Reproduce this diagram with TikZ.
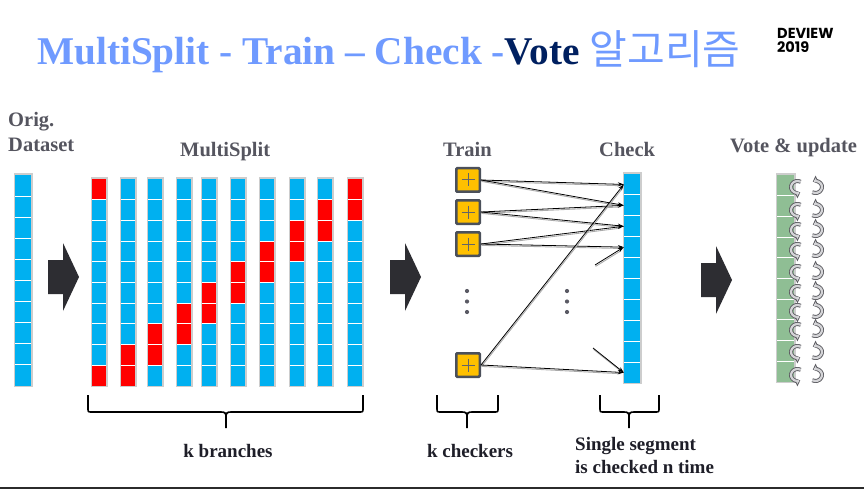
\documentclass[tikz,border=0pt]{standalone}
\usepackage{fontspec}
\setmainfont{Liberation Serif}
\newfontfamily\cjk{Noto Sans CJK KR}
\newfontfamily\logofont{Poppins}
\usetikzlibrary{arrows.meta}

\definecolor{titleblue}{RGB}{111,154,255}
\definecolor{navy}{RGB}{0,32,96}
\definecolor{labelgray}{RGB}{85,85,95}
\definecolor{captiondark}{RGB}{30,30,40}
\definecolor{cellblue}{RGB}{0,176,240}
\definecolor{cellred}{RGB}{255,0,0}
\definecolor{cellgreen}{RGB}{143,190,148}
\definecolor{framegray}{RGB}{205,205,205}
\definecolor{arrowdark}{RGB}{45,45,50}
\definecolor{gold}{RGB}{255,192,0}
\definecolor{boxrim}{RGB}{75,80,90}
\definecolor{plusgray}{RGB}{100,100,105}
\definecolor{dotgray}{RGB}{90,90,100}
\definecolor{curlout}{RGB}{95,95,100}
\definecolor{curlin}{RGB}{212,212,215}
\definecolor{shadowgray}{RGB}{170,170,170}
\definecolor{barcolor}{RGB}{43,43,43}

% a column of ten segments: inner left, inner right, top, bottom, colour
\newcommand\segcolumn[5]{%
  \fill[framegray] (#1-1.5,#3-2) rectangle (#2+1.5,#4+1);
  \fill[white] (#1,#3) rectangle (#2,#4);
  \pgfmathsetmacro\segh{(#4-#3)/10}
  \foreach \i in {1,...,10}{
    \fill[#5] (#1,{#3+(\i-1)*\segh+0.5}) rectangle (#2,{#3+\i*\segh-0.5});
  }%
}
% red (held-out) segments of a column: inner left, inner right, top, bottom, first row
\newcommand\heldout[5]{%
  \pgfmathsetmacro\segh{(#4-#3)/10}
  \foreach \i in {#5,\the\numexpr#5+1\relax}{
    \fill[cellred] (#1,{#3+(\i-1)*\segh+0.5}) rectangle (#2,{#3+\i*\segh-0.5});
  }%
}
% block arrow: left x, tip x, centre y
\newcommand\blockarrow[3]{%
  \fill[arrowdark] (#1,#3-17) -- (#1+15,#3-17) -- (#1+15,#3-34) -- (#2,#3)
    -- (#1+15,#3+34) -- (#1+15,#3+17) -- (#1,#3+17) -- cycle;
}
% curly brace opening downwards: left x, right x, tip x
\newcommand\downbrace[3]{%
  \draw[bracestyle] (#1,395) -- (#1,408) .. controls (#1,412) .. (#1+4,412)
    -- (#3-5,412) .. controls (#3-1,412) and (#3,413) .. (#3,417) -- (#3,428);
  \draw[bracestyle] (#2,395) -- (#2,408) .. controls (#2,412) .. (#2-4,412)
    -- (#3+5,412) .. controls (#3+1,412) and (#3,413) .. (#3,417);
}
% connector with a faint drop shadow
\newcommand\link[2]{%
  \draw[connshadow] (#1) -- (#2);
  \draw[conn] (#1) -- (#2);
}

\tikzset{
  lbl/.style={inner sep=0, text=labelgray, font=\fontsize{20.5}{22}\selectfont\bfseries},
  caption/.style={inner sep=0, text=captiondark, font=\fontsize{19}{21}\selectfont\bfseries},
  checkcell/.style={inner sep=0, minimum width=16pt, minimum height=19.9pt, fill=cellblue},
  trainbox/.style={draw=boxrim, line width=2.5pt, fill=gold, minimum size=23.5pt,
    inner sep=0, rounded corners=1pt},
  plusline/.style={draw=plusgray, line width=1pt},
  conn/.style={draw=black, line width=0.8pt, -{Stealth[length=6pt,width=4pt]}},
  connshadow/.style={draw=shadowgray, line width=0.9pt, transform canvas={xshift=0.6pt,yshift=-1.4pt},
    shorten >=4pt},
  bracestyle/.style={draw=black, line width=1.6pt},
  curlL/.pic={
    \draw[curlout, line width=4pt,
      -{Triangle[length=5pt,width=8.5pt,fill=curlin,line width=0.8pt]}]
      (300:6.5 and 6) arc[start angle=300, end angle=65, x radius=6.5, y radius=6];
    \draw[curlin, line width=2.2pt]
      (300:6.5 and 6) arc[start angle=300, end angle=75, x radius=6.5, y radius=6];
  },
  curlR/.pic={
    \draw[curlout, line width=4pt,
      -{Triangle[length=5pt,width=8.5pt,fill=curlin,line width=0.8pt]}]
      (120:6.5 and 6) arc[start angle=120, end angle=-115, x radius=6.5, y radius=6];
    \draw[curlin, line width=2.2pt]
      (120:6.5 and 6) arc[start angle=120, end angle=-105, x radius=6.5, y radius=6];
  },
}

\begin{document}
\begin{tikzpicture}[x=1pt, y=-1pt]
\useasboundingbox (0,0) rectangle (864,489);
\fill[white] (0,0) rectangle (864,489);

% heading and logo
\node[anchor=base west, inner sep=0] (title) at (37,65)
  {\fontsize{39.3}{41}\selectfont\bfseries\color{titleblue}MultiSplit - Train – Check -\textcolor{navy}{Vote} {\cjk\mdseries\fontsize{41}{41}\selectfont 알고리즘}};
\node[anchor=base west, inner sep=0] (logo1) at (777,39)
  {\logofont\bfseries\fontsize{14.5}{14.5}\selectfont DEVIEW};
\node[anchor=base west, inner sep=0] (logo2) at (777,53)
  {\logofont\bfseries\fontsize{14.5}{14.5}\selectfont 2019};

% column headings
\node[lbl, anchor=base west] (origA) at (8,127) {Orig.};
\node[lbl, anchor=base west] (origB) at (8,152) {Dataset};
\node[lbl, anchor=base west] (msplit) at (180,157) {MultiSplit};
\node[lbl, anchor=base west] (train) at (443,157) {Train};
\node[lbl, anchor=base west] (check) at (599,157) {Check};
\node[lbl, anchor=base west] (vote) at (730,153) {Vote \& update};

% original dataset
\segcolumn{15}{31}{175}{386}{cellblue}

% k split branches; the first one wraps around (rows 10 and 1)
\foreach \xl/\r in {120/9, 147/8, 176/7, 201/6, 230/5, 259/4, 289/3, 317/2, 347/1}{
  \segcolumn{\xl+1}{\xl+15}{179}{386}{cellblue}
  \heldout{\xl+1}{\xl+15}{179}{386}{\r}
}
\segcolumn{92}{106}{179}{386}{cellblue}
\fill[cellred] (92,179.5) rectangle (106,{179+20.7-0.5});
\fill[cellred] (92,{179+9*20.7+0.5}) rectangle (106,385.5);

% block arrows between the stages
\blockarrow{48}{79}{277}
\blockarrow{390}{421}{277}
\blockarrow{701}{732}{280}

% checked column
\fill[framegray] (622.5,172) rectangle (641.5,384);
\fill[white] (624,174) rectangle (640,383);
\foreach \i in {1,...,10}{
  \node[checkcell] (c\i) at (632,{174+(\i-0.5)*20.9}) {};
}

% trained checkers
\foreach \n/\yy in {1/180, 2/212, 3/244, 4/365}{
  \node[trainbox] (t\n) at (468,\yy) {};
  \draw[plusline] (t\n.center) +(-6.5,0) -- +(6.5,0) +(0,-6.5) -- +(0,6.5);
}

% vertical ellipses
\foreach \yy in {291,301.5,312}{
  \fill[dotgray] (467,\yy) circle (2.1);
  \fill[dotgray] (567,\yy) circle (2.1);
}

% checker to segment connectors
\link{t1.east}{c1.west}
\link{t1.east}{c2.west}
\link{t2.east}{c2.west}
\link{t2.east}{c3.west}
\link{t3.east}{c3.west}
\link{t3.east}{c4.west}
\link{t4.east}{c1.west}
\link{t4.east}{c10.west}
\coordinate (f1) at (595,265);
\coordinate (f2) at (593,348);
\link{f1}{c4.west}
\link{f2}{c10.west}

% voted column with update marks
\segcolumn{777}{794}{175}{382}{cellgreen}
\foreach \yy in {187,210,230,250,272,292,311,330,352,375}{
  \pic at (797.5,\yy) {curlL};
  \pic at (815.5,\yy) {curlR};
}

% braces and captions
\downbrace{88}{363}{226}
\downbrace{437}{498}{467}
\downbrace{600}{659}{629}
\node[caption, anchor=base] (capA) at (228,457) {k branches};
\node[caption, anchor=base] (capB) at (470,457) {k checkers};
\node[caption, anchor=base west] (capC) at (575,450) {Single segment};
\node[caption, anchor=base west] (capD) at (575,473) {is checked n time};

% footer rule
\fill[barcolor] (0,487) rectangle (864,489);
\end{tikzpicture}
\end{document}
